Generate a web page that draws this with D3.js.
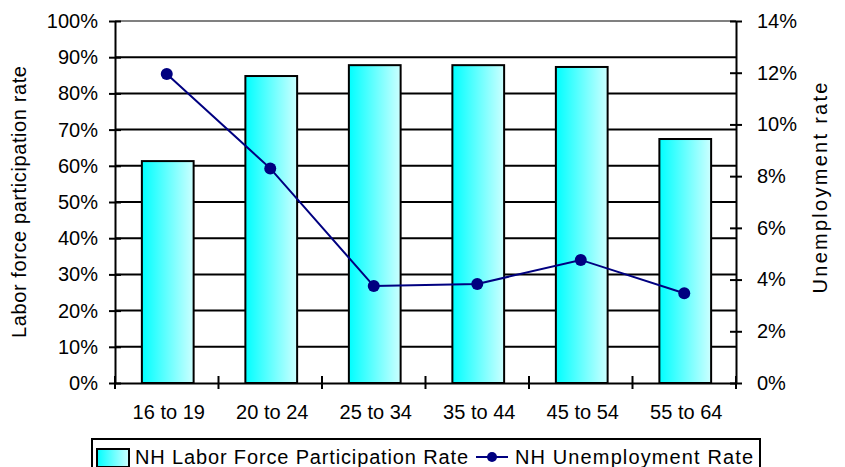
<!DOCTYPE html>
<html><head><meta charset="utf-8">
<script src="https://cdn.jsdelivr.net/npm/d3@7"></script>
<style>body{margin:0;background:#fff}svg{display:block}text{font-family:"Liberation Sans",Arial,sans-serif;fill:#000}</style>
</head><body>
<svg id="c" width="845" height="467"></svg>
<script>
const categories = ["16 to 19","20 to 24","25 to 34","35 to 44","45 to 54","55 to 64"];
const participation = [61.3, 84.8, 87.8, 87.8, 87.3, 67.4];
const unemployment = [11.95, 8.3, 3.75, 3.83, 4.76, 3.47];
const leftTicks = [0,10,20,30,40,50,60,70,80,90,100];
const rightTicks = [0,2,4,6,8,10,12,14];
const seriesNames = ["NH Labor Force Participation Rate","NH Unemployment Rate"];

const svg = d3.select("#c");
const L=115, R=736, T=21, B=383;
const x = d3.scaleBand().domain(categories).range([L,R]).padding(0);
const yL = d3.scaleLinear().domain([0,100]).range([B,T]);
const yR = d3.scaleLinear().domain([0,14]).range([B,T]);

const defs = svg.append("defs");
const g = defs.append("linearGradient").attr("id","bg").attr("x1","0").attr("x2","1").attr("y1","0").attr("y2","0");
g.append("stop").attr("offset","0").attr("stop-color","#00ffff");
g.append("stop").attr("offset","1").attr("stop-color","#ccffff");

// gridlines
svg.append("g").selectAll("line").data(leftTicks.filter(d=>d>0&&d<100)).join("line")
  .attr("x1",L).attr("x2",R).attr("y1",d=>yL(d)).attr("y2",d=>yL(d))
  .attr("stroke","#000").attr("stroke-width",2);
svg.append("line").attr("x1",L).attr("x2",R).attr("y1",T).attr("y2",T).attr("stroke","#808080").attr("stroke-width",2);

// bars
const bw = x.bandwidth();
svg.append("g").selectAll("rect").data(categories).join("rect")
  .attr("x",d=>x(d)+bw*0.25+1).attr("width",bw*0.5)
  .attr("y",(d,i)=>yL(participation[i])).attr("height",(d,i)=>B-yL(participation[i]))
  .attr("fill","url(#bg)").attr("stroke","#000").attr("stroke-width",2);

// axes
const fs = "20px";
const axL = d3.axisLeft(yL).tickValues(leftTicks).tickFormat(d=>d+"%").tickSizeInner(6).tickSizeOuter(0).tickPadding(11);
const gl = svg.append("g").attr("transform",`translate(${L},0)`).call(axL);
const axR = d3.axisRight(yR).tickValues(rightTicks).tickFormat(d=>d+"%").tickSizeInner(6).tickSizeOuter(0).tickPadding(15);
const gr = svg.append("g").attr("transform",`translate(${R},0)`).call(axR);
const axB = d3.axisBottom(x).tickValues([]).tickSizeOuter(0);
const gb = svg.append("g").attr("transform",`translate(0,${B})`).call(axB);
[gl,gr,gb].forEach(a=>{a.select(".domain").attr("stroke","#000").attr("stroke-width",2);
  a.selectAll(".tick line").attr("stroke","#000").attr("stroke-width",2);
  a.selectAll("text").attr("font-size",fs).style("font-family","'Liberation Sans',Arial,sans-serif").attr("fill","#000");});
// cross ticks
gl.selectAll(".tick line").attr("x1",6).attr("x2",-6);
gr.selectAll(".tick line").attr("x1",-6).attr("x2",6);
// x category ticks (boundaries)
const bounds = categories.map(d=>x(d)).concat([R]);
svg.append("g").selectAll("line").data(bounds).join("line")
  .attr("x1",d=>d).attr("x2",d=>d).attr("y1",B-7).attr("y2",B+6).attr("stroke","#000").attr("stroke-width",2);
svg.append("g").selectAll("text").data(categories).join("text")
  .attr("x",d=>x(d)+bw/2+2).attr("y",419).attr("text-anchor","middle").attr("font-size",fs).text(d=>d);

// line
const line = d3.line().x((d,i)=>x(categories[i])+bw/2).y(d=>yR(d));
svg.append("path").datum(unemployment).attr("d",line).attr("fill","none").attr("stroke","#000080").attr("stroke-width",2);
svg.append("g").selectAll("circle").data(unemployment).join("circle")
  .attr("cx",(d,i)=>x(categories[i])+bw/2).attr("cy",d=>yR(d)).attr("r",6).attr("fill","#000080");

// axis titles
svg.append("text").attr("transform","translate(26,202) rotate(-90)").attr("text-anchor","middle")
  .attr("font-size",fs).attr("textLength",272).attr("lengthAdjust","spacing").text("Labor force participation rate");
svg.append("text").attr("transform","translate(827,188) rotate(-90)").attr("text-anchor","middle")
  .attr("font-size",fs).attr("textLength",211).attr("lengthAdjust","spacing").text("Unemployment rate");

// legend
const lg = svg.append("g");
lg.append("rect").attr("x",92).attr("y",439).attr("width",668).attr("height",40).attr("fill","#fff").attr("stroke","#000").attr("stroke-width",2);
lg.append("rect").attr("x",97).attr("y",449).attr("width",32).attr("height",18).attr("fill","url(#bg)").attr("stroke","#000").attr("stroke-width",2);
lg.append("text").attr("x",135).attr("y",464).attr("font-size",fs).attr("textLength",333).attr("lengthAdjust","spacing").text(seriesNames[0]);
lg.append("line").attr("x1",476).attr("x2",508).attr("y1",457).attr("y2",457).attr("stroke","#000080").attr("stroke-width",2);
lg.append("circle").attr("cx",492).attr("cy",457).attr("r",5).attr("fill","#000080");
lg.append("text").attr("x",515).attr("y",464).attr("font-size",fs).attr("textLength",238).attr("lengthAdjust","spacing").text(seriesNames[1]);
</script>
</body></html>
